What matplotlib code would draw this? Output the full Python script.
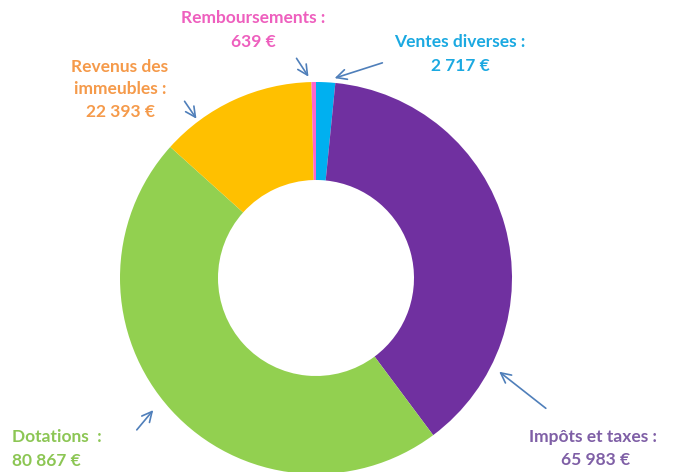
import matplotlib
matplotlib.use('Agg')
import matplotlib.pyplot as plt

labels = ['Ventes diverses', 'Impôts et taxes', 'Dotations ', 'Revenus des\nimmeubles', 'Remboursements']
values = [2717, 65983, 80867, 22393, 639]
value_text = ['2 717 €', '65 983 €', '80 867 €', '22 393 €', '639 €']
colors = ['#00B0F0', '#7030A0', '#92D050', '#FFC000', '#FF66CC']
text_colors = ['#1BA9E1', '#7F5FA6', '#8CC654', '#F59A4A', '#EE5FBE']

W, H = 676, 472
fig = plt.figure(figsize=(W / 100, H / 100), dpi=100)
ax = fig.add_axes([0, 0, 1, 1])

# donut
ax.pie(values, colors=colors, startangle=90, counterclock=False,
       radius=196, center=(316, H - 278),
       wedgeprops=dict(width=98, linewidth=0))
ax.set_xlim(0, W)
ax.set_ylim(0, H)
ax.set_aspect('equal')
ax.axis('off')

font = dict(family='Lato', fontweight='bold', fontsize=12.5, va='center')

# label positions (pixel coords, y from top)
label_pos = [(460, 42), (593, 437), (12, 437), (120, 78), (253, 18)]
value_pos = [(460, 66), (596, 460), (12, 461), (120, 112), (253, 42)]
aligns = ['center', 'center', 'left', 'center', 'center']
for i in range(len(labels)):
    lx, ly = label_pos[i]
    vx, vy = value_pos[i]
    ax.text(lx, H - ly, labels[i] + ' :', color=text_colors[i], linespacing=1.45,
            ha=aligns[i], **font)
    ax.text(vx, H - vy, value_text[i], color=text_colors[i], ha=aligns[i], **font)

# arrows: (start, end) in pixel coords from top
arrows = [((385, 62), (332, 79)),
          ((548, 410), (497, 370)),
          ((135, 432), (155, 408)),
          ((183, 99), (198, 121)),
          ((295, 56), (310, 79))]
for (x0, y0), (x1, y1) in arrows:
    ax.annotate('', xy=(x1, H - y1), xytext=(x0, H - y0),
                arrowprops=dict(arrowstyle='->', color='#4F7FBA', lw=1.2,
                                mutation_scale=18))

fig.savefig('out.png', dpi=100)
